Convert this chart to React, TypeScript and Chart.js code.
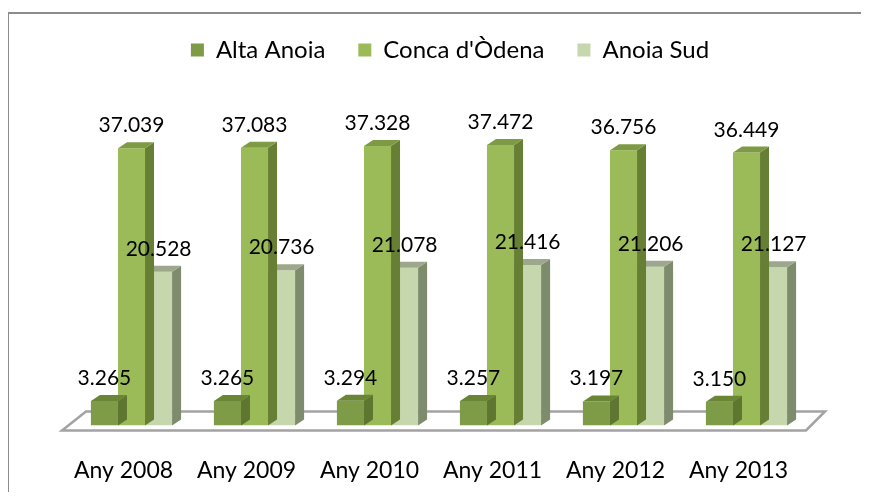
import React, { useEffect, useRef } from "react";
import { Chart, registerables } from "chart.js";

Chart.register(...registerables);

const categories = ["Any 2008", "Any 2009", "Any 2010", "Any 2011", "Any 2012", "Any 2013"];
const altaAnoia = [3265, 3265, 3294, 3257, 3197, 3150];
const concaOdena = [37039, 37083, 37328, 37472, 36756, 36449];
const anoiaSud = [20528, 20736, 21078, 21416, 21206, 21127];
const seriesNames = ["Alta Anoia", "Conca d'Òdena", "Anoia Sud"];

const FONT = "Lato";
const frontColors = ["#7E9B47", "#9BBB59", "#C6D7AD"];
const topColors = ["#6A8536", "#7E9A45", "#9CA78B"];
const sideColors = ["#5E7630", "#677F35", "#7F8B6D"];
const DX = 9;
const DY = -6;

function fmt(v: number): string {
  return String(v).replace(/\B(?=(\d{3})+(?!\d))/g, ".");
}

const legendMargin = {
  id: "legendMargin",
  beforeInit(chart: any) {
    const legend = chart.legend;
    const origFit = legend.fit;
    legend.fit = function () {
      origFit.bind(legend)();
      this.height += 54;
    };
    const origDraw = legend.draw;
    legend.draw = function () {
      const ctx = chart.ctx;
      ctx.save();
      ctx.translate(11, 0);
      origDraw.call(legend);
      ctx.restore();
    };
  },
};

const threeD = {
  id: "threeD",
  beforeDatasetsDraw(chart: any) {
    const { ctx, chartArea } = chart;
    const l = chartArea.left;
    const r = chartArea.right;
    const b = chartArea.bottom;
    ctx.save();
    ctx.beginPath();
    ctx.moveTo(l - 8, b + 5);
    ctx.lineTo(l + 16, b - 14);
    ctx.lineTo(r + 17, b - 14);
    ctx.lineTo(r - 2, b + 5);
    ctx.closePath();
    ctx.fillStyle = "#ffffff";
    ctx.fill();
    ctx.lineWidth = 2.5;
    ctx.strokeStyle = "#a3a3a3";
    ctx.stroke();
    ctx.restore();
  },
  afterDatasetDraw(chart: any, args: any) {
    const { ctx } = chart;
    const i = args.index;
    const meta = chart.getDatasetMeta(i);
    ctx.save();
    meta.data.forEach((bar: any) => {
      const w = bar.width;
      const x0 = bar.x - w / 2;
      const x1 = bar.x + w / 2;
      const y = bar.y;
      const base = bar.base;
      ctx.beginPath();
      ctx.moveTo(x1, y);
      ctx.lineTo(x1 + DX, y + DY);
      ctx.lineTo(x1 + DX, base + DY);
      ctx.lineTo(x1, base);
      ctx.closePath();
      ctx.fillStyle = sideColors[i];
      ctx.fill();
      ctx.beginPath();
      ctx.moveTo(x0, y);
      ctx.lineTo(x0 + DX, y + DY);
      ctx.lineTo(x1 + DX, y + DY);
      ctx.lineTo(x1, y);
      ctx.closePath();
      ctx.fillStyle = topColors[i];
      ctx.fill();
    });
    ctx.restore();
  },
  afterDatasetsDraw(chart: any) {
    const { ctx } = chart;
    ctx.save();
    ctx.font = `21px ${FONT}`;
    ctx.fillStyle = "#000000";
    ctx.textAlign = "center";
    ctx.textBaseline = "alphabetic";
    chart.data.datasets.forEach((ds: any, i: number) => {
      const meta = chart.getDatasetMeta(i);
      meta.data.forEach((bar: any, j: number) => {
        ctx.fillText(fmt(ds.data[j]), bar.x, bar.y - 16);
      });
    });
    ctx.restore();
  },
};

export default function App() {
  const ref = useRef<HTMLCanvasElement>(null);
  useEffect(() => {
    document.documentElement.style.overflow = "hidden";
    document.body.style.overflow = "hidden";
    if (!ref.current) return;
    const chart = new Chart(ref.current, {
      type: "bar",
      data: {
        labels: categories,
        datasets: [
          { label: seriesNames[0], data: altaAnoia, backgroundColor: frontColors[0] },
          { label: seriesNames[1], data: concaOdena, backgroundColor: frontColors[1] },
          { label: seriesNames[2], data: anoiaSud, backgroundColor: frontColors[2] },
        ],
      },
      options: {
        responsive: false,
        animation: false,
        events: [],
        categoryPercentage: 0.66,
        barPercentage: 1.0,
        layout: { padding: { left: 70, right: 61, top: 5, bottom: 9 } },
        plugins: {
          legend: {
            position: "top",
            labels: {
              boxWidth: 13,
              boxHeight: 13,
              padding: 33,
              color: "#000000",
              font: { family: FONT, size: 24 },
            },
          },
          tooltip: { enabled: false },
        },
        scales: {
          x: {
            grid: { display: true, color: "transparent", drawOnChartArea: false, drawTicks: true, tickLength: 24 },
            border: { display: false },
            ticks: {
              color: "#000000",
              font: { family: FONT, size: 23 },
              padding: 7,
              labelOffset: -8,
            },
          },
          y: {
            display: false,
            min: 0,
            max: 40000,
          },
        },
      },
      plugins: [legendMargin, threeD],
    });
    return () => chart.destroy();
  }, []);

  return (
    <div style={{ position: "relative", width: 869, height: 500, margin: -8, overflow: "hidden", background: "#ffffff" }}>
      <div
        style={{
          position: "absolute",
          left: 7,
          top: 12,
          right: -20,
          bottom: -20,
          borderLeft: "2px solid #8c8c8c",
          borderTop: "2px solid #8c8c8c",
        }}
      />
      <canvas ref={ref} width={869} height={500} style={{ position: "absolute", left: 0, top: 0 }} />
    </div>
  );
}
